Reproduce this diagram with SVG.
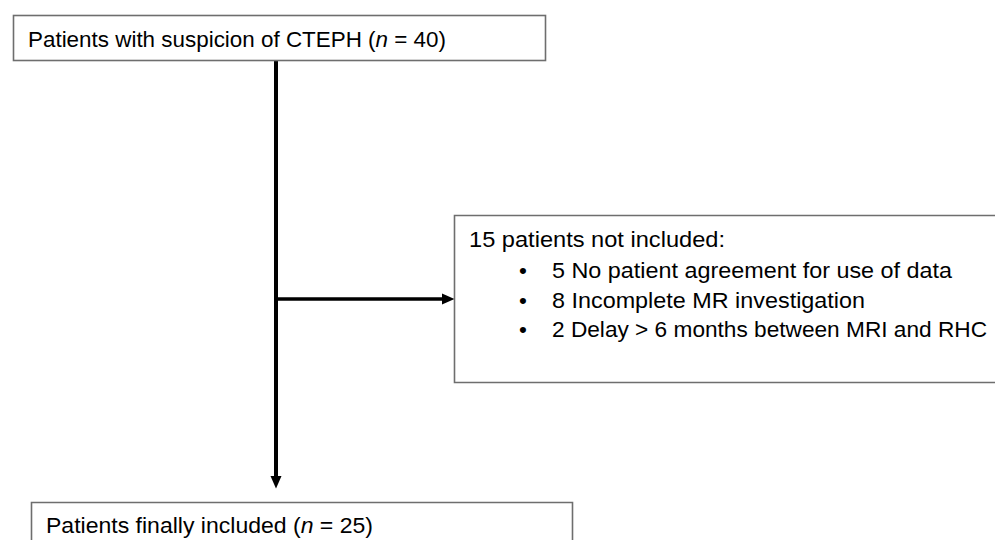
<svg xmlns="http://www.w3.org/2000/svg" width="995" height="540" viewBox="0 0 995 540">
<defs>
<style>
.box{fill:#fff;stroke:#6e6e6e;stroke-width:1.6}
.t{font-family:"Liberation Sans",Arial,sans-serif;font-size:22.5px;fill:#000}
.conn{stroke:#000;fill:none}
</style>
<marker id="ah" markerUnits="userSpaceOnUse" markerWidth="13" markerHeight="12" refX="0" refY="6" orient="auto">
<path d="M0,0.5 L12.5,6 L0,11.5 z" fill="#000"/>
</marker>
</defs>
<rect width="995" height="540" fill="#fff"/>
<g id="connectors">
<line class="conn" x1="276" y1="61" x2="276" y2="476" stroke-width="4" marker-end="url(#ah)"/>
<line class="conn" x1="276" y1="299" x2="442" y2="299" stroke-width="3.5" marker-end="url(#ah)"/>
</g>
<g id="node-suspicion">
<rect class="box" x="13.5" y="15.5" width="532" height="45"/>
<text class="t" x="28" y="47" textLength="418" lengthAdjust="spacingAndGlyphs">Patients with suspicion of CTEPH (<tspan font-style="italic">n</tspan> = 40)</text>
</g>
<g id="node-excluded">
<path class="box" d="M1000,215.5 H454.5 V382.5 H1000"/>
<text class="t" x="469" y="247" textLength="256" lengthAdjust="spacingAndGlyphs">15 patients not included:</text>
<text class="t" x="523" y="278" text-anchor="middle">•</text>
<text class="t" x="552" y="278" textLength="400" lengthAdjust="spacingAndGlyphs">5 No patient agreement for use of data</text>
<text class="t" x="523" y="308" text-anchor="middle">•</text>
<text class="t" x="552" y="308" textLength="313" lengthAdjust="spacingAndGlyphs">8 Incomplete MR investigation</text>
<text class="t" x="523" y="337" text-anchor="middle">•</text>
<text class="t" x="552" y="337" textLength="435" lengthAdjust="spacingAndGlyphs">2 Delay &gt; 6 months between MRI and RHC</text>
</g>
<g id="node-included">
<path class="box" d="M31.5,545 V502.5 H572.5 V545"/>
<text class="t" x="46" y="533" textLength="327" lengthAdjust="spacingAndGlyphs">Patients finally included (<tspan font-style="italic">n</tspan> = 25)</text>
</g>
</svg>
